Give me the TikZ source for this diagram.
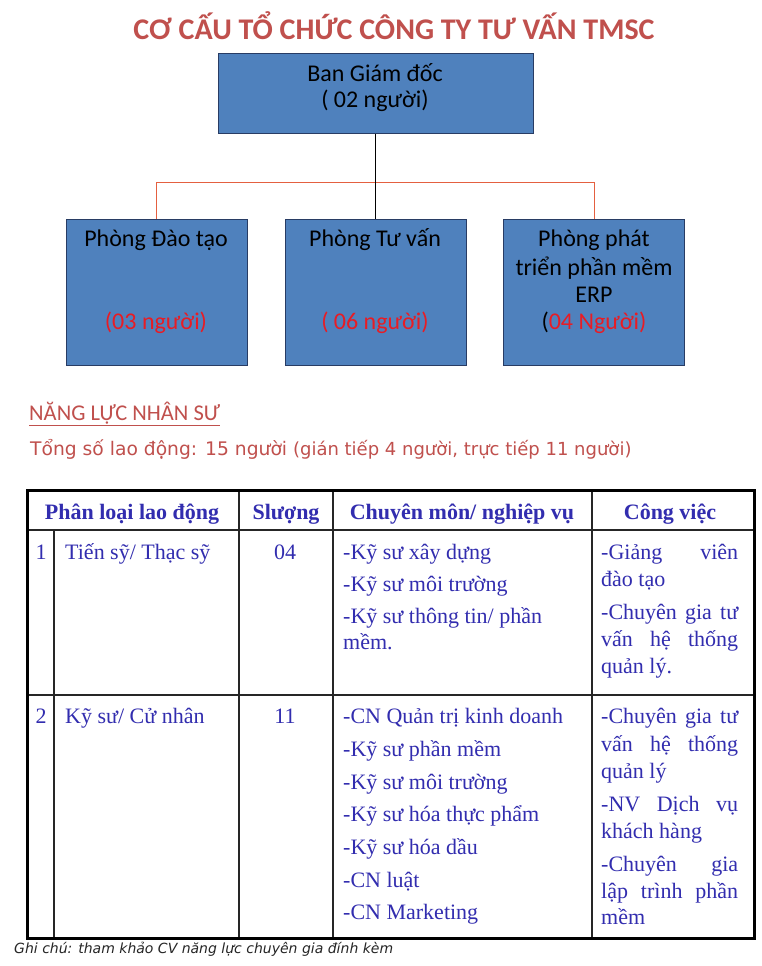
\documentclass[tikz,border=0pt]{standalone}
\usepackage{fontspec}
\setmainfont{Liberation Serif}
\newfontfamily\calfont{Carlito}
\newfontfamily\dvfont{DejaVu Sans}
\definecolor{titlered}{RGB}{192,80,77}
\definecolor{boxfill}{RGB}{79,129,189}
\definecolor{boxline}{RGB}{40,60,100}
\definecolor{txtred}{RGB}{232,28,36}
\definecolor{linkred}{RGB}{228,96,64}
\definecolor{tblue}{RGB}{50,45,175}
\begin{document}
\begin{tikzpicture}[x=1pt,y=-1pt,
  orgbox/.style={draw=boxline,line width=1pt,fill=boxfill,inner sep=0pt},
  boxtxt/.style={font=\calfont\fontsize{24}{28}\selectfont,inner sep=0pt,anchor=center},
  tb/.style={font=\fontsize{22}{26}\selectfont,text=tblue,inner sep=0pt,anchor=base west},
  tbc/.style={font=\fontsize{22}{26}\selectfont,text=tblue,inner sep=0pt,anchor=base},
  th/.style={font=\bfseries\fontsize{22}{26}\selectfont,text=tblue,inner sep=0pt,anchor=base},
  inner/.style={line width=1.3pt,draw=black!85},
  outer/.style={line width=3pt,draw=black}]
\useasboundingbox (0,0) rectangle (761,966);
\fill[white] (0,0) rectangle (761,966);

% title
\node[font=\calfont\bfseries\fontsize{30}{33}\selectfont,text=titlered,inner sep=0pt] (title) at (394,26) {CƠ CẤU TỔ CHỨC CÔNG TY TƯ VẤN TMSC};

% org boxes
\node[orgbox,minimum width=315pt,minimum height=79pt] (bgd) at (375.5,93.5) {};
\node[boxtxt] (bgd1) at (375,73) {Ban Giám đốc};
\node[boxtxt] (bgd2) at (375,101) {( 02 người)};

\node[orgbox,minimum width=181pt,minimum height=146pt] (p1) at (156.5,292) {};
\node[orgbox,minimum width=181pt,minimum height=146pt] (p2) at (375.5,292) {};
\node[orgbox,minimum width=181pt,minimum height=146pt] (p3) at (594,292) {};

\node[boxtxt] (p1a) at (156,240) {Phòng Đào tạo};
\node[boxtxt,text=txtred] (p1b) at (156,323) {(03 người)};
\node[boxtxt] (p2a) at (375,240) {Phòng Tư vấn};
\node[boxtxt,text=txtred] (p2b) at (375,323) {( 06 người)};
\node[boxtxt] (p3a) at (594,240) {Phòng phát};
\node[boxtxt] (p3b) at (594,268) {triển phần mềm};
\node[boxtxt] (p3c) at (594,295) {ERP};
\node[boxtxt] (p3d) at (594,323) {(\textcolor{txtred}{04 Người)}};

% connectors
\coordinate (bus) at (375,182);
\draw[linkred,line width=1pt] (p1.north) -- (p1.north |- bus) -- (p3.north |- bus) -- (p3.north);
\draw[black,line width=1pt] (bgd.south) -- (p2.north);

% section headings
\node[font=\calfont\fontsize{22.5}{26}\selectfont,text=titlered,inner sep=0pt,anchor=base west] (nl) at (29,420) {\underline{NĂNG LỰC NHÂN SƯ}};
\node[font=\dvfont\fontsize{18.7}{22}\selectfont,text=titlered,inner sep=0pt,anchor=base west] (tong) at (30,455) {Tổng số lao động: 15 người {\fontsize{18}{20}\selectfont(gián tiếp 4 người, trực tiếp 11 người)}};

% table lines
\draw[inner] (27,530) -- (754,530);
\draw[inner] (27,695) -- (754,695);
\draw[inner] (54,530) -- (54,938);
\draw[inner] (239,490) -- (239,938);
\draw[inner] (333,490) -- (333,938);
\draw[inner] (592,490) -- (592,938);
\draw[outer] (27,490) rectangle (754,938);

% header
\node[th] (h1) at (132,519) {Phân loại lao động};
\node[th] (h2) at (286,519) {Slượng};
\node[th] (h3) at (462,519) {Chuyên môn/ nghiệp vụ};
\node[th] (h4) at (670,519) {Công việc};

% row 1
\node[tbc] (r1n) at (41,559) {1};
\node[tb] (r1a) at (65,559) {Tiến sỹ/ Thạc sỹ};
\node[tbc] (r1b) at (285,559) {04};
\node[tb] (r1c1) at (343,559) {-Kỹ sư xây dựng};
\node[tb] (r1c2) at (343,591) {-Kỹ sư môi trường};
\node[tb] (r1c3) at (343,623) {-Kỹ sư thông tin/ phần};
\node[tb] (r1c4) at (343,649) {mềm.};
\node[tb] (r1d1) at (601,559) {\makebox[137pt][s]{-Giảng viên}};
\node[tb] (r1d2) at (601,586) {đào tạo};
\node[tb] (r1d3) at (601,619) {\makebox[137pt][s]{-Chuyên gia tư}};
\node[tb] (r1d4) at (601,646) {\makebox[137pt][s]{vấn hệ thống}};
\node[tb] (r1d5) at (601,673) {quản lý.};

% row 2
\node[tbc] (r2n) at (41,723) {2};
\node[tb] (r2a) at (65,723) {Kỹ sư/ Cử nhân};
\node[tbc] (r2b) at (285,723) {11};
\node[tb] (r2c1) at (343,723) {-CN Quản trị kinh doanh};
\node[tb] (r2c2) at (343,756) {-Kỹ sư phần mềm};
\node[tb] (r2c3) at (343,789) {-Kỹ sư môi trường};
\node[tb] (r2c4) at (343,821) {-Kỹ sư hóa thực phẩm};
\node[tb] (r2c5) at (343,854) {-Kỹ sư hóa dầu};
\node[tb] (r2c6) at (343,887) {-CN luật};
\node[tb] (r2c7) at (343,919) {-CN Marketing};
\node[tb] (r2d1) at (601,723) {\makebox[137pt][s]{-Chuyên gia tư}};
\node[tb] (r2d2) at (601,751) {\makebox[137pt][s]{vấn hệ thống}};
\node[tb] (r2d3) at (601,778) {quản lý};
\node[tb] (r2d4) at (601,811) {\makebox[137pt][s]{-NV Dịch vụ}};
\node[tb] (r2d5) at (601,838) {khách hàng};
\node[tb] (r2d6) at (601,871) {\makebox[137pt][s]{-Chuyên gia}};
\node[tb] (r2d7) at (601,898) {\makebox[137pt][s]{lập trình phần}};
\node[tb] (r2d8) at (601,924) {mềm};

% footnote
\node[font=\dvfont\itshape\fontsize{14}{16}\selectfont,text=black!85,inner sep=0pt,anchor=base west] (note) at (14,953) {Ghi chú: tham khảo CV năng lực chuyên gia đính kèm};
\end{tikzpicture}
\end{document}
